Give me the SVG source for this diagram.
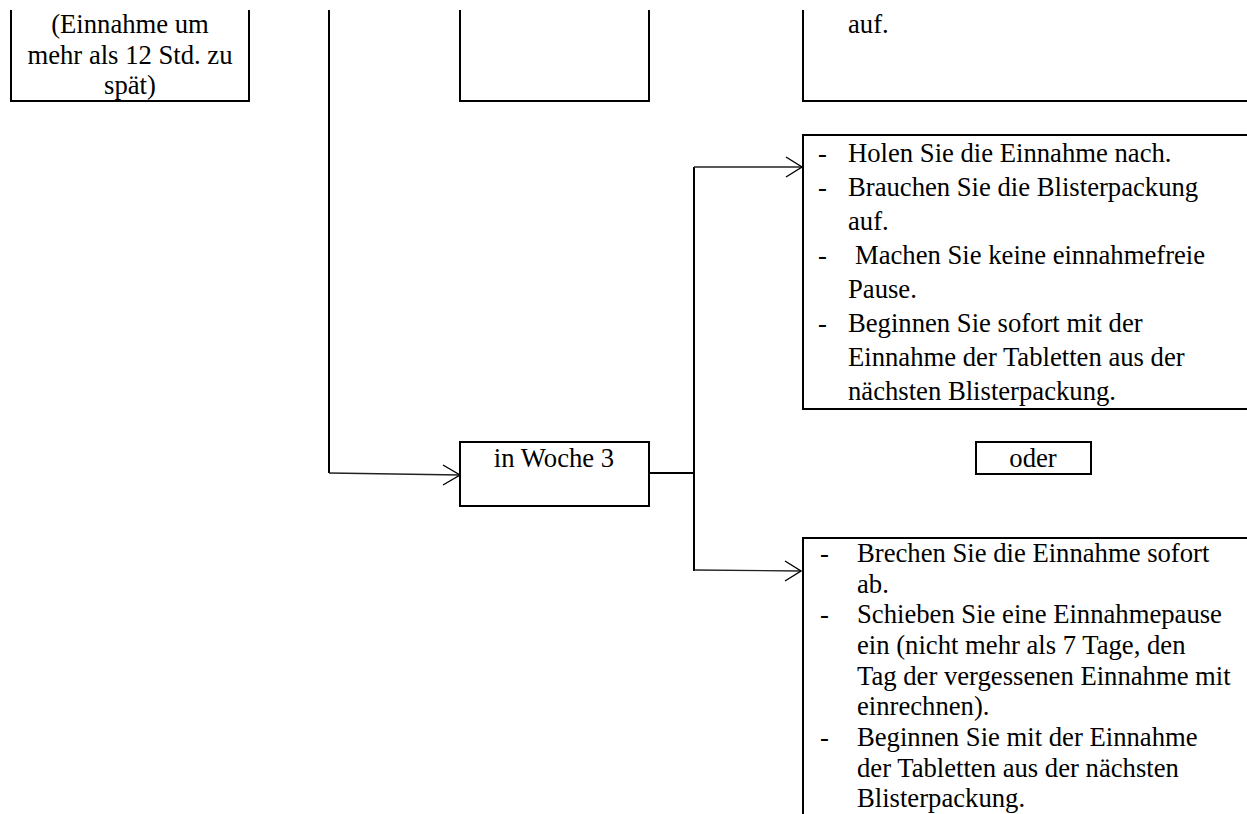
<svg xmlns="http://www.w3.org/2000/svg" width="1247" height="814" viewBox="0 0 1247 814">
<style>
  text { font-family: "Liberation Serif", "Times New Roman", serif; font-size: 26.67px; fill: #000; }
  .c { text-anchor: middle; }
  .box { fill: #fff; stroke: #000; stroke-width: 2; }
  .vline { stroke: #000; stroke-width: 2; fill: none; }
  .hline { stroke: #222; stroke-width: 1.4; fill: none; }
  .head { stroke: #000; stroke-width: 1.4; fill: none; }
</style>
<rect width="1247" height="814" fill="#fff"/>

<g id="connectors">
  <line class="vline" x1="329" y1="10" x2="329" y2="473"/>
  <line class="hline" x1="329" y1="473" x2="460" y2="475"/>
  <polyline class="head" points="443,465 460,475 443,485"/>
  <line class="vline" x1="649" y1="473" x2="695" y2="473"/>
  <line class="vline" x1="694" y1="167" x2="694" y2="571"/>
  <line class="hline" x1="694" y1="167" x2="802" y2="167"/>
  <polyline class="head" points="786,157 802,167 786,177"/>
  <line class="hline" x1="694" y1="570" x2="801" y2="571"/>
  <polyline class="head" points="785,561 801,571 785,581"/>
</g>

<g id="node-zu-spaet">
  <path class="box" d="M11,10 V101 H249 V10"/>
  <text class="c" x="130" y="33">(Einnahme um</text>
  <text class="c" x="130" y="64">mehr als 12 Std. zu</text>
  <text class="c" x="130" y="94">spät)</text>
</g>

<g id="node-empty">
  <path class="box" d="M460,10 V101 H649 V10"/>
</g>

<g id="node-auf">
  <path class="box" d="M803,10 V101 H1250"/>
  <text x="848" y="33">auf.</text>
</g>

<g id="node-nachholen">
  <path class="box" d="M1250,135 H803 V409 H1250"/>
  <text x="818" y="162">-</text><text x="848" y="162">Holen Sie die Einnahme nach.</text>
  <text x="818" y="196">-</text><text x="848" y="196">Brauchen Sie die Blisterpackung</text>
  <text x="848" y="230">auf.</text>
  <text x="818" y="264">-</text><text x="855" y="264">Machen Sie keine einnahmefreie</text>
  <text x="848" y="298">Pause.</text>
  <text x="818" y="332">-</text><text x="848" y="332">Beginnen Sie sofort mit der</text>
  <text x="848" y="366">Einnahme der Tabletten aus der</text>
  <text x="848" y="400">nächsten Blisterpackung.</text>
</g>

<g id="node-woche3">
  <rect class="box" x="460" y="442" width="189" height="64"/>
  <text class="c" x="554" y="467">in Woche 3</text>
</g>

<g id="node-oder">
  <rect class="box" x="976" y="442" width="115" height="32"/>
  <text class="c" x="1033" y="467">oder</text>
</g>

<g id="node-abbrechen">
  <path class="box" d="M1250,538 H803 V820"/>
  <text x="820" y="562">-</text><text x="857" y="562">Brechen Sie die Einnahme sofort</text>
  <text x="857" y="593">ab.</text>
  <text x="820" y="623">-</text><text x="857" y="623">Schieben Sie eine Einnahmepause</text>
  <text x="857" y="654">ein (nicht mehr als 7 Tage, den</text>
  <text x="857" y="685">Tag der vergessenen Einnahme mit</text>
  <text x="857" y="715">einrechnen).</text>
  <text x="820" y="746">-</text><text x="857" y="746">Beginnen Sie mit der Einnahme</text>
  <text x="857" y="777">der Tabletten aus der nächsten</text>
  <text x="857" y="807">Blisterpackung.</text>
</g>
</svg>
